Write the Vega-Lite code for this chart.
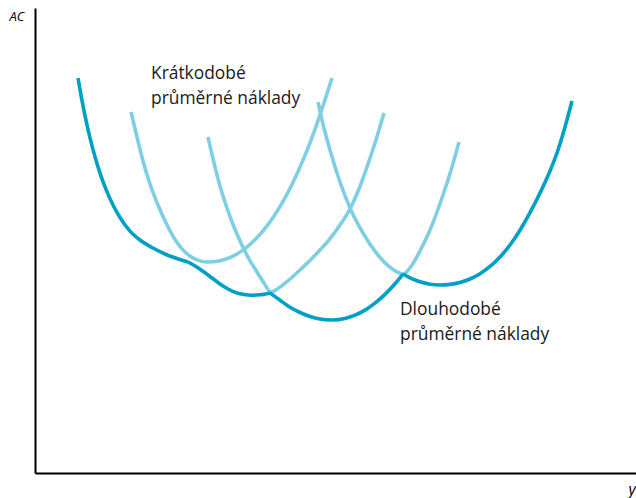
{
  "$schema": "https://vega.github.io/schema/vega-lite/v6.json",
  "width": 601,
  "height": 465,
  "autosize": {"type": "none"},
  "padding": {"left": 35, "top": 8, "right": 0, "bottom": 25},
  "background": "white",
  "config": {"view": {"stroke": null}},
  "datasets": {
    "short": [
      {"curve": "S1", "q": 96, "ac": 361}, {"curve": "S1", "q": 102, "ac": 336}, {"curve": "S1", "q": 108, "ac": 312}, {"curve": "S1", "q": 115, "ac": 289}, {"curve": "S1", "q": 123, "ac": 268}, {"curve": "S1", "q": 132, "ac": 248}, {"curve": "S1", "q": 141, "ac": 232}, {"curve": "S1", "q": 150, "ac": 221}, {"curve": "S1", "q": 160, "ac": 214}, {"curve": "S1", "q": 172, "ac": 211}, {"curve": "S1", "q": 185, "ac": 212.3}, {"curve": "S1", "q": 197, "ac": 216.4}, {"curve": "S1", "q": 209, "ac": 223.6}, {"curve": "S1", "q": 221, "ac": 234.2}, {"curve": "S1", "q": 233, "ac": 248.3}, {"curve": "S1", "q": 245, "ac": 266.3}, {"curve": "S1", "q": 257, "ac": 288.5}, {"curve": "S1", "q": 269, "ac": 315.1}, {"curve": "S1", "q": 281, "ac": 346.4}, {"curve": "S1", "q": 291, "ac": 376.2}, {"curve": "S1", "q": 297, "ac": 395}, 
      {"curve": "S2", "q": 173, "ac": 336}, {"curve": "S2", "q": 179, "ac": 310}, {"curve": "S2", "q": 185, "ac": 287}, {"curve": "S2", "q": 192, "ac": 265}, {"curve": "S2", "q": 199, "ac": 246}, {"curve": "S2", "q": 206, "ac": 230}, {"curve": "S2", "q": 214, "ac": 214}, {"curve": "S2", "q": 222, "ac": 201}, {"curve": "S2", "q": 229, "ac": 190}, {"curve": "S2", "q": 236, "ac": 181}, {"curve": "S2", "q": 245, "ac": 186}, {"curve": "S2", "q": 255, "ac": 194}, {"curve": "S2", "q": 265, "ac": 203}, {"curve": "S2", "q": 275, "ac": 212.5}, {"curve": "S2", "q": 285, "ac": 223}, {"curve": "S2", "q": 294, "ac": 233}, {"curve": "S2", "q": 305, "ac": 248}, {"curve": "S2", "q": 315, "ac": 264}, {"curve": "S2", "q": 324, "ac": 284}, {"curve": "S2", "q": 332, "ac": 306}, {"curve": "S2", "q": 340, "ac": 330}, {"curve": "S2", "q": 349, "ac": 360},
      {"curve": "S3", "q": 283, "ac": 371}, {"curve": "S3", "q": 287, "ac": 353}, {"curve": "S3", "q": 295, "ac": 323}, {"curve": "S3", "q": 305, "ac": 291}, {"curve": "S3", "q": 315, "ac": 265}, {"curve": "S3", "q": 328, "ac": 240}, {"curve": "S3", "q": 343, "ac": 218}, {"curve": "S3", "q": 356, "ac": 205}, {"curve": "S3", "q": 368, "ac": 199}, {"curve": "S3", "q": 377, "ac": 208}, {"curve": "S3", "q": 385, "ac": 222}, {"curve": "S3", "q": 395, "ac": 243}, {"curve": "S3", "q": 408, "ac": 278}, {"curve": "S3", "q": 417, "ac": 306}, {"curve": "S3", "q": 424, "ac": 331}
    ],
    "long": [
      {"curve": "DA", "q": 43, "ac": 395}, {"curve": "DA", "q": 47, "ac": 372.4}, {"curve": "DA", "q": 51, "ac": 352.7}, {"curve": "DA", "q": 55, "ac": 335.1}, {"curve": "DA", "q": 60, "ac": 316.2}, {"curve": "DA", "q": 65, "ac": 299.9}, {"curve": "DA", "q": 71, "ac": 283.6}, {"curve": "DA", "q": 78, "ac": 268}, {"curve": "DA", "q": 85, "ac": 255.5}, {"curve": "DA", "q": 95, "ac": 241.9}, {"curve": "DA", "q": 105, "ac": 233}, {"curve": "DA", "q": 117, "ac": 225.5}, {"curve": "DA", "q": 130, "ac": 219}, {"curve": "DA", "q": 142, "ac": 214.5}, {"curve": "DA", "q": 153, "ac": 211},
      {"curve": "DB", "q": 153, "ac": 211}, {"curve": "DB", "q": 161, "ac": 206.5}, {"curve": "DB", "q": 169, "ac": 201}, {"curve": "DB", "q": 177, "ac": 195}, {"curve": "DB", "q": 185, "ac": 189}, {"curve": "DB", "q": 193, "ac": 184}, {"curve": "DB", "q": 201, "ac": 180.4}, {"curve": "DB", "q": 209, "ac": 178.4}, {"curve": "DB", "q": 217, "ac": 177.7}, {"curve": "DB", "q": 225, "ac": 178.2}, {"curve": "DB", "q": 235, "ac": 180.1},
      {"curve": "DC", "q": 235, "ac": 180.1}, {"curve": "DC", "q": 245, "ac": 172.7}, {"curve": "DC", "q": 255, "ac": 165.8}, {"curve": "DC", "q": 265, "ac": 160.5}, {"curve": "DC", "q": 275, "ac": 156.5}, {"curve": "DC", "q": 285, "ac": 154}, {"curve": "DC", "q": 297, "ac": 153}, {"curve": "DC", "q": 310, "ac": 154.5}, {"curve": "DC", "q": 320, "ac": 157.8}, {"curve": "DC", "q": 330, "ac": 162.9}, {"curve": "DC", "q": 340, "ac": 169.9}, {"curve": "DC", "q": 350, "ac": 178.6}, {"curve": "DC", "q": 360, "ac": 189.2}, {"curve": "DC", "q": 368, "ac": 199},
      {"curve": "DD", "q": 368, "ac": 199}, {"curve": "DD", "q": 375, "ac": 195.2}, {"curve": "DD", "q": 385, "ac": 191.2}, {"curve": "DD", "q": 395, "ac": 188.8}, {"curve": "DD", "q": 405, "ac": 188}, {"curve": "DD", "q": 415, "ac": 188.6}, {"curve": "DD", "q": 425, "ac": 190.5}, {"curve": "DD", "q": 435, "ac": 194}, {"curve": "DD", "q": 445, "ac": 199.3}, {"curve": "DD", "q": 455, "ac": 206.6}, {"curve": "DD", "q": 465, "ac": 216.1}, {"curve": "DD", "q": 475, "ac": 228}, {"curve": "DD", "q": 485, "ac": 242.8}, {"curve": "DD", "q": 495, "ac": 260.3}, {"curve": "DD", "q": 505, "ac": 280}, {"curve": "DD", "q": 515, "ac": 302}, {"curve": "DD", "q": 523, "ac": 323}, {"curve": "DD", "q": 530, "ac": 346}, {"curve": "DD", "q": 537, "ac": 372}
    ]
  },
  "layer": [
    {
      "data": {"name": "short"},
      "mark": {"type": "line", "interpolate": "monotone", "color": "#7fcfe4", "strokeWidth": 3.6, "strokeCap": "butt"},
      "encoding": {
        "x": {"field": "q", "type": "quantitative", "scale": {"domain": [0, 601], "nice": false, "zero": true},
              "axis": {"title": "y", "ticks": false, "labels": false, "grid": false, "domainColor": "#000000", "domainWidth": 2,
                       "titleFont": "Open Sans", "titleFontStyle": "italic", "titleFontWeight": "normal", "titleFontSize": 16, "titleColor": "#000000",
                       "titleX": 593, "titleY": 21, "titleAlign": "left", "titleBaseline": "alphabetic"}},
        "y": {"field": "ac", "type": "quantitative", "scale": {"domain": [0, 465], "nice": false, "zero": true},
              "axis": {"title": "AC", "ticks": false, "labels": false, "grid": false, "domainColor": "#000000", "domainWidth": 2,
                       "titleFont": "Open Sans", "titleFontStyle": "italic", "titleFontWeight": "normal", "titleFontSize": 13, "titleColor": "#000000",
                       "titleAngle": 0, "titleX": -26, "titleY": 12, "titleAlign": "left", "titleBaseline": "alphabetic"}},
        "detail": {"field": "curve"}
      }
    },
    {
      "data": {"name": "long"},
      "mark": {"type": "line", "interpolate": "monotone", "color": "#00a0c6", "strokeWidth": 3.6, "strokeCap": "butt"},
      "encoding": {
        "x": {"field": "q", "type": "quantitative"},
        "y": {"field": "ac", "type": "quantitative"},
        "detail": {"field": "curve"}
      }
    },
    {
      "data": {"values": [{}]},
      "mark": {"type": "text", "text": ["Krátkodobé", "průměrné náklady"], "align": "left", "baseline": "alphabetic", "font": "Open Sans", "fontSize": 17.4, "lineHeight": 25, "color": "#1a1a1a"},
      "encoding": {"x": {"datum": 116}, "y": {"datum": 394}}
    },
    {
      "data": {"values": [{}]},
      "mark": {"type": "text", "text": ["Dlouhodobé", "průměrné náklady"], "align": "left", "baseline": "alphabetic", "font": "Open Sans", "fontSize": 17.4, "lineHeight": 25, "color": "#1a1a1a"},
      "encoding": {"x": {"datum": 365}, "y": {"datum": 158}}
    }
  ]
}
